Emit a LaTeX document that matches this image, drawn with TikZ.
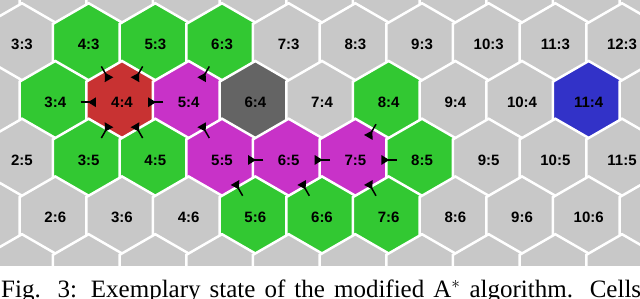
\documentclass[tikz,border=0pt]{standalone}
\usepackage{fontspec}
\usepackage{xcolor}
\usepackage{tikz}
\usetikzlibrary{shapes.geometric,arrows.meta,calc}
\newfontfamily\cellfont{Liberation Sans}
\newfontfamily\captionfont{Liberation Serif}
\definecolor{cellgray}{RGB}{200,200,200}
\definecolor{opengreen}{RGB}{50,200,50}
\definecolor{startred}{RGB}{200,50,50}
\definecolor{closedmagenta}{RGB}{200,50,200}
\definecolor{blockedgray}{RGB}{100,100,100}
\definecolor{goalblue}{RGB}{50,50,200}

\tikzset{
    hexcell/.style={
        regular polygon,
        regular polygon sides=6,
        shape border rotate=30,
        minimum size=82.5pt,
        inner sep=0pt,
        outer sep=0pt,
        draw=white,
        line width=2.5pt,
        fill=cellgray,
        font={\cellfont\bfseries\fontsize{15}{18}\selectfont}
    },
    parentlink/.style={
        line width=1.5pt,
        -{Triangle[reversed,length=8pt,width=9.5pt]}
    },
    % open list
    cell 4-3/.style={fill=opengreen},
    cell 5-3/.style={fill=opengreen},
    cell 6-3/.style={fill=opengreen},
    cell 3-4/.style={fill=opengreen},
    cell 8-4/.style={fill=opengreen},
    cell 3-5/.style={fill=opengreen},
    cell 4-5/.style={fill=opengreen},
    cell 8-5/.style={fill=opengreen},
    cell 5-6/.style={fill=opengreen},
    cell 6-6/.style={fill=opengreen},
    cell 7-6/.style={fill=opengreen},
    % closed list
    cell 5-4/.style={fill=closedmagenta},
    cell 5-5/.style={fill=closedmagenta},
    cell 6-5/.style={fill=closedmagenta},
    cell 7-5/.style={fill=closedmagenta},
    % start, obstacle, goal
    cell 4-4/.style={fill=startred},
    cell 6-4/.style={fill=blockedgray},
    cell 11-4/.style={fill=goalblue}
}

\begin{document}
\begin{tikzpicture}[x=1pt,y=-1pt]

\useasboundingbox (0,0) rectangle (640,299);
\clip (0,0) rectangle (640,299);

\begin{scope}
\clip (0,0) rectangle (640,266);

% hex grid, labels only where they can be seen
\foreach \r in {2,...,7}
    \foreach \c in {1,...,13} {
        \pgfmathsetmacro\hx{22+66.67*(\c-3)+33.33*(\r-3)}
        \pgfmathtruncatemacro\shown{(\r>2)&&(\r<7)&&(\hx>-30)&&(\hx<650)}
        \node[hexcell, cell \c-\r/.try] (h-\c-\r)
            at (\hx,{44.5+57.74*(\r-3)}) {\ifnum\shown=1 \c:\r\fi};
    }

% parent pointers (child/parent)
\foreach \a/\b in {3-4/4-4, 5-4/4-4, 4-3/4-4, 5-3/4-4, 3-5/4-4, 4-5/4-4,
                   6-3/5-4, 5-5/5-4, 6-5/5-5, 5-6/5-5, 7-5/6-5, 6-6/6-5,
                   8-5/7-5, 7-6/7-5, 8-4/7-5}
    \draw[parentlink] ($(h-\a)!0.38!(h-\b)$) -- ($(h-\a)!0.61!(h-\b)$);
\end{scope}

\node[
    anchor=base west,
    inner sep=0pt,
    font={\captionfont\fontsize{25}{30}\selectfont}
] (caption) at (1,298)
{\makebox[640pt][s]{Fig. 3: Exemplary state of the modified A$^*$ algorithm. Cells}};

\end{tikzpicture}
\end{document}
